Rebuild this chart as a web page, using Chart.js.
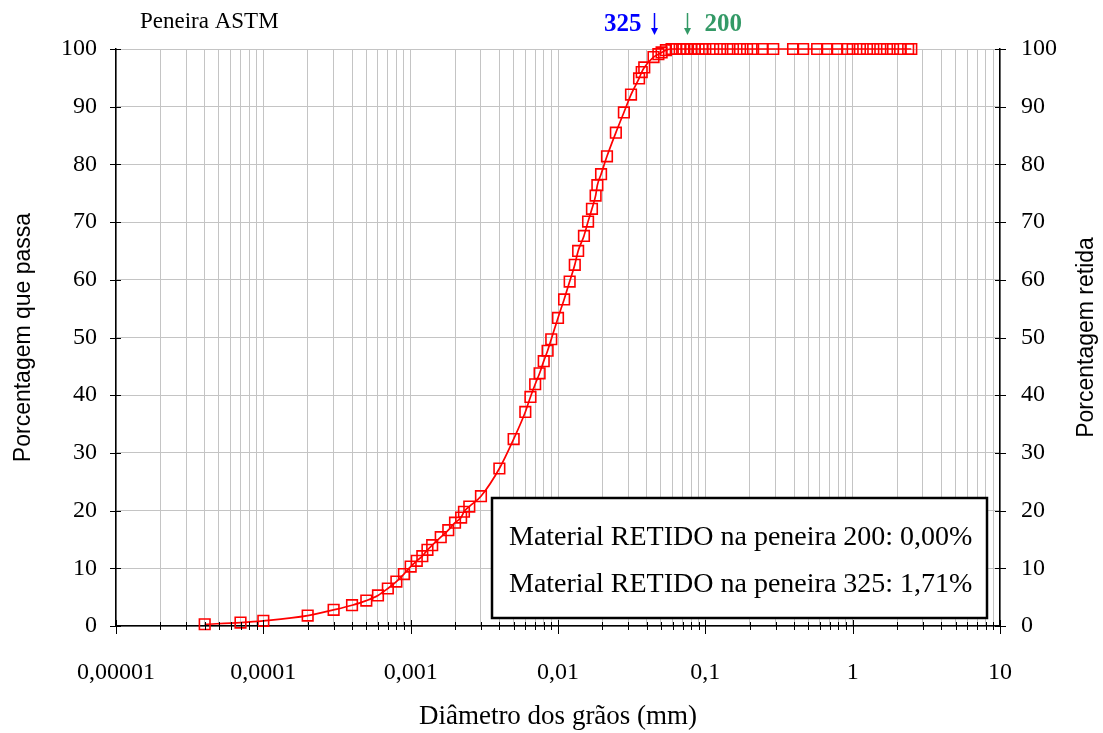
<!DOCTYPE html>
<html>
<head>
<meta charset="utf-8">
<script src="https://cdn.jsdelivr.net/npm/chart.js@4.4.0/dist/chart.umd.min.js"></script>
<style>
  html, body { margin: 0; padding: 0; background: #fff; }
</style>
</head>
<body>
<canvas id="curveChart" width="1103" height="733"></canvas>
<script>
// ************** Data
const diameters = [
    0.00004, 0.00007, 0.0001, 0.0002, 0.0003, 0.0004, 0.0005, 0.0006, 0.0007, 0.0008,
    0.0009, 0.001, 0.0011, 0.0012, 0.0013, 0.0014, 0.0016, 0.0018, 0.002, 0.0022,
    0.0023, 0.0025, 0.003, 0.004, 0.005, 0.006, 0.0065, 0.007, 0.0075, 0.008,
    0.0085, 0.009, 0.01, 0.011, 0.012, 0.013, 0.0137, 0.015, 0.016, 0.017,
    0.018, 0.0185, 0.0196, 0.0215, 0.0247, 0.028, 0.0313, 0.0355, 0.037, 0.0385,
    0.0445, 0.048, 0.0505, 0.054, 0.059, 0.063, 0.067, 0.071, 0.075, 0.08,
    0.085, 0.09, 0.095, 0.1, 0.113, 0.126, 0.141, 0.154, 0.172, 0.192,
    0.211, 0.243, 0.289, 0.394, 0.461, 0.574, 0.671, 0.785, 0.918, 1.0,
    1.12, 1.25, 1.38, 1.54, 1.71, 1.88, 2.1, 2.38, 2.5
];
const passing = [
    0.3, 0.6, 0.9, 1.8, 2.8, 3.6, 4.4, 5.3, 6.5, 7.7,
    9.0, 10.3, 11.3, 12.1, 13.2, 14.0, 15.4, 16.6, 17.9, 18.8,
    19.8, 20.7, 22.5, 27.3, 32.4, 37.1, 39.7, 41.9, 43.8, 45.9,
    47.7, 49.7, 53.4, 56.6, 59.7, 62.6, 65.0, 67.6, 70.1, 72.3,
    74.6, 76.4, 78.3, 81.4, 85.5, 89.0, 92.1, 94.9, 96.0, 96.8,
    98.6, 99.1, 99.4, 99.8, 100, 100, 100, 100, 100, 100,
    100, 100, 100, 100, 100, 100, 100, 100, 100, 100,
    100, 100, 100, 100, 100, 100, 100, 100, 100, 100,
    100, 100, 100, 100, 100, 100, 100, 100, 100
];

const xDecades = [0.00001, 0.0001, 0.001, 0.01, 0.1, 1, 10];
const xTickLabels = ['0,00001', '0,0001', '0,001', '0,01', '0,1', '1', '10'];

const sieveSizes = [0.045, 0.075];          // #325 and #200 openings (mm)
const sieveNames = ['325', '200'];
const sieveColors = ['#0000ff', '#339966'];

const retainedLines = [
    'Material RETIDO na peneira 200: 0,00%',
    'Material RETIDO na peneira 325: 1,71%'
];

const SERIF = "'Liberation Serif', 'Times New Roman', serif";
const SANS = "'Liberation Sans', Arial, sans-serif";

// ************** Extra drawing: tick marks, text box, sieve arrows, right title
const extrasPlugin = {
    id: 'extras',
    afterDraw(chart) {
        const { ctx, chartArea: a } = chart;
        const x = chart.scales.x;
        const y = chart.scales.y;
        ctx.save();

        // x tick marks
        ctx.strokeStyle = '#000';
        ctx.lineWidth = 1;
        x.ticks.forEach(t => {
            const px = Math.round(x.getPixelForValue(t.value)) + 0.5;
            const major = xDecades.includes(t.value);
            ctx.beginPath();
            ctx.moveTo(px, a.bottom - (major ? 6 : 4));
            ctx.lineTo(px, a.bottom + (major ? 8 : 4));
            ctx.stroke();
        });

        // y tick marks (both sides)
        y.ticks.forEach(t => {
            const py = Math.round(y.getPixelForValue(t.value)) + 0.5;
            ctx.beginPath();
            ctx.moveTo(a.left - 6, py); ctx.lineTo(a.left + 5, py);
            ctx.moveTo(a.right - 5, py); ctx.lineTo(a.right + 6, py);
            ctx.stroke();
        });

        // retained box
        ctx.fillStyle = '#fff';
        ctx.fillRect(492, 498, 495, 120);
        ctx.lineWidth = 2.5;
        ctx.strokeRect(492, 498, 495, 120);
        ctx.fillStyle = '#000';
        ctx.font = '28px ' + SERIF;
        ctx.textAlign = 'left';
        ctx.textBaseline = 'alphabetic';
        ctx.fillText(retainedLines[0], 509, 545);
        ctx.fillText(retainedLines[1], 509, 592);

        // header
        ctx.font = '23px ' + SERIF;
        ctx.fillText('Peneira ASTM', 140, 28);

        // sieve arrows
        sieveSizes.forEach((s, i) => {
            const px = Math.round(x.getPixelForValue(s)) + 0.5;
            ctx.strokeStyle = sieveColors[i];
            ctx.fillStyle = sieveColors[i];
            ctx.lineWidth = 1.5;
            ctx.beginPath();
            ctx.moveTo(px, 13); ctx.lineTo(px, 31);
            ctx.stroke();
            ctx.beginPath();
            ctx.moveTo(px - 3.5, 28); ctx.lineTo(px + 3.5, 28); ctx.lineTo(px, 35);
            ctx.closePath();
            ctx.fill();
            ctx.font = 'bold 25px ' + SERIF;
            if (i === 0) {
                ctx.textAlign = 'right';
                ctx.fillText(sieveNames[i], px - 13, 31);
            } else {
                ctx.textAlign = 'left';
                ctx.fillText(sieveNames[i], px + 17, 31);
            }
        });

        // right axis title (reads bottom to top)
        ctx.fillStyle = '#000';
        ctx.font = '23px ' + SANS;
        ctx.textAlign = 'center';
        ctx.textBaseline = 'middle';
        ctx.translate(1087, (a.top + a.bottom) / 2);
        ctx.rotate(-Math.PI / 2);
        ctx.fillText('Porcentagem retida', 0, 0);

        ctx.restore();
    }
};

Chart.defaults.color = '#000';

const ctx = document.getElementById('curveChart').getContext('2d');
const curveChart = new Chart(ctx, {
    type: 'line',
    data: {
        datasets: [{
            data: diameters.map((d, i) => ({ x: d, y: passing[i] })),
            borderColor: '#ff0000',
            borderWidth: 1.7,
            cubicInterpolationMode: 'monotone',
            pointStyle: 'rect',
            pointRadius: 7.5,
            pointBorderWidth: 1.6,
            pointBorderColor: '#ff0000',
            pointBackgroundColor: 'rgba(0,0,0,0)',
            fill: false,
            clip: false
        }]
    },
    options: {
        responsive: false,
        animation: false,
        layout: { padding: { top: 49, left: 0, right: 0, bottom: 0 } },
        plugins: {
            legend: { display: false },
            tooltip: { enabled: false }
        },
        scales: {
            x: {
                type: 'logarithmic',
                min: 0.00001,
                max: 10,
                afterBuildTicks: scale => {
                    const ticks = [];
                    xDecades.forEach((d, i) => {
                        ticks.push({ value: d });
                        if (i < xDecades.length - 1) {
                            for (let k = 2; k <= 9; k++) ticks.push({ value: +(d * k).toPrecision(3) });
                        }
                    });
                    scale.ticks = ticks;
                },
                afterFit: scale => { scale.height = 107; },
                grid: { color: '#c4c4c4', lineWidth: 1, drawTicks: false },
                border: { display: true, color: '#000', width: 1.5 },
                ticks: {
                    autoSkip: false,
                    maxRotation: 0,
                    minRotation: 0,
                    padding: 32,
                    font: { family: SERIF, size: 24 },
                    callback: value => {
                        const i = xDecades.indexOf(value);
                        return i >= 0 ? xTickLabels[i] : '';
                    }
                },
                title: {
                    display: true,
                    text: 'Diâmetro dos grãos (mm)',
                    font: { family: SERIF, size: 27 },
                    padding: { top: 0, bottom: 0 }
                }
            },
            y: {
                position: 'left',
                min: 0,
                max: 100,
                afterFit: scale => { scale.width = 116; },
                grid: { color: '#c4c4c4', lineWidth: 1, drawTicks: false },
                border: { display: true, color: '#000', width: 1.5 },
                ticks: {
                    stepSize: 10,
                    padding: 19,
                    font: { family: SERIF, size: 24 }
                },
                title: {
                    display: true,
                    text: 'Porcentagem que passa',
                    font: { family: SANS, size: 23 },
                    padding: { top: 10, bottom: 0 }
                }
            },
            y2: {
                position: 'right',
                min: 0,
                max: 100,
                afterFit: scale => { scale.width = 103; },
                grid: { display: false, drawTicks: false },
                border: { display: true, color: '#000', width: 1.5 },
                ticks: {
                    stepSize: 10,
                    padding: 21,
                    font: { family: SERIF, size: 24 }
                }
            }
        }
    },
    plugins: [extrasPlugin]
});
</script>
</body>
</html>
